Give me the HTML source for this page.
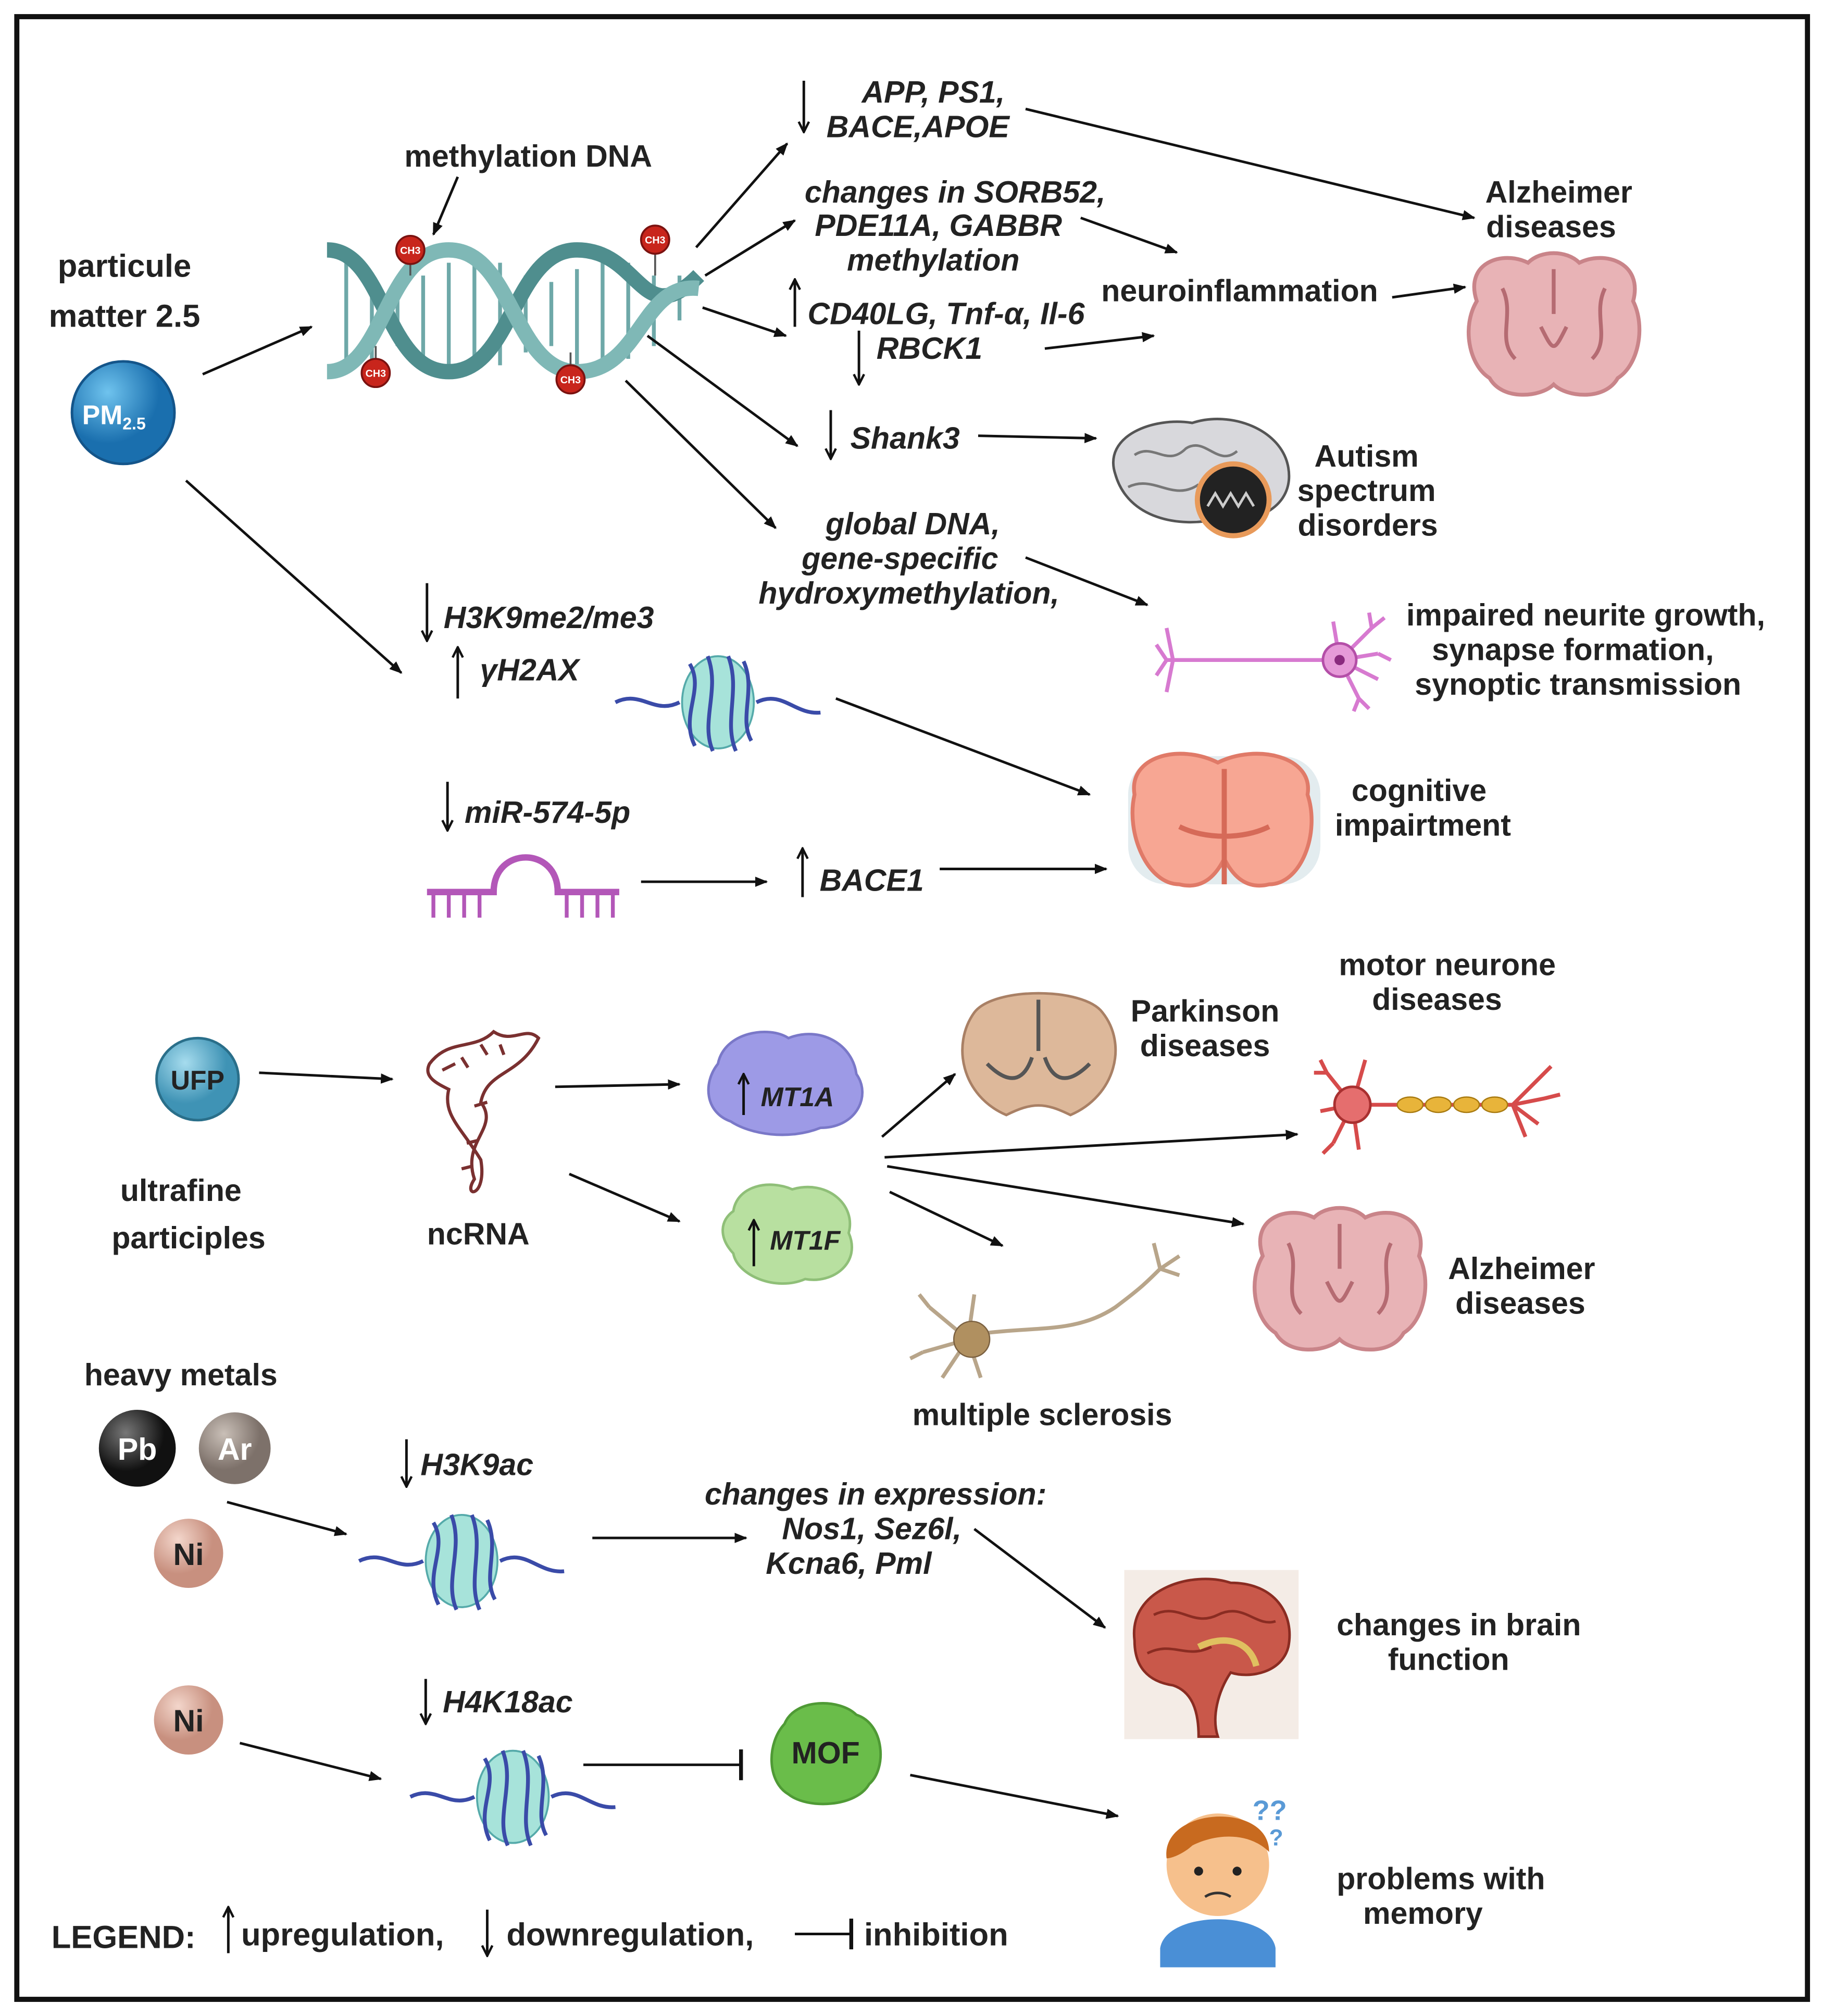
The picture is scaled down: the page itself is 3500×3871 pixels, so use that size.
<!DOCTYPE html>
<html><head><meta charset="utf-8">
<style>
html,body{margin:0;padding:0;background:#fff}
svg{display:block}
text{font-family:"Liberation Sans",sans-serif;font-weight:bold;fill:#222}
.t{font-size:24px;text-anchor:middle}
.i{font-size:24px;font-style:italic;text-anchor:middle}
.a{stroke:#111;stroke-width:2;fill:none;marker-end:url(#ah)}
.r{stroke:#111;stroke-width:2}
</style></head><body>
<svg width="3500" height="3871" viewBox="0 0 1422 1573" xmlns="http://www.w3.org/2000/svg">
<defs>
<marker id="ah" markerWidth="10" markerHeight="8" refX="9" refY="4" orient="auto" markerUnits="userSpaceOnUse" viewBox="0 0 10 8"><path d="M0,0 L10,4 L0,8 z" fill="#111"/></marker>
<marker id="sh" markerWidth="10" markerHeight="10" refX="9" refY="5" orient="auto" markerUnits="userSpaceOnUse" viewBox="0 0 10 10"><path d="M1,1 L9,5 L1,9" fill="none" stroke="#111" stroke-width="1.8"/></marker>
<radialGradient id="gb" cx="35%" cy="30%"><stop offset="0" stop-color="#6fc3ee"/><stop offset="1" stop-color="#1a6fae"/></radialGradient>
<radialGradient id="gu" cx="35%" cy="30%"><stop offset="0" stop-color="#a6dcee"/><stop offset="1" stop-color="#3f93b5"/></radialGradient>
<radialGradient id="gk" cx="35%" cy="30%"><stop offset="0" stop-color="#777"/><stop offset="1" stop-color="#111"/></radialGradient>
<radialGradient id="gg" cx="35%" cy="30%"><stop offset="0" stop-color="#c9bfb7"/><stop offset="1" stop-color="#7d716a"/></radialGradient>
<radialGradient id="gn" cx="35%" cy="30%"><stop offset="0" stop-color="#f3d6cb"/><stop offset="1" stop-color="#c8907f"/></radialGradient>
<g id="nuc">
<path d="M-80,0 C-60,-10 -50,10 -30,0 M30,0 C50,-10 60,10 80,8" stroke="#3a4ba8" stroke-width="3" fill="none"/>
<ellipse cx="0" cy="0" rx="28" ry="36" fill="#a7e3da" stroke="#5aa" stroke-width="1.5"/>
<path d="M-22,-30 C-10,-10 -30,10 -18,34 M-8,-36 C2,-10 -14,15 -4,38 M8,-36 C18,-10 4,15 14,38 M20,-32 C30,-10 16,12 26,30" stroke="#3a4ba8" stroke-width="3" fill="none"/>
</g>
<g id="brainA">
<path d="M-60,-20 C-70,-50 -40,-60 -20,-50 C-10,-60 10,-60 20,-50 C40,-60 70,-50 62,-20 C72,0 66,30 50,40 C40,58 10,55 0,45 C-10,55 -40,58 -50,40 C-66,30 -72,0 -60,-20Z" fill="#e8b3b6" stroke="#c98489" stroke-width="3"/>
<path d="M-40,-30 C-30,-10 -45,10 -30,25 M40,-30 C30,-10 45,10 30,25 M-10,0 C0,20 0,20 10,0 M0,-45 L0,-10" stroke="#b56b72" stroke-width="3" fill="none"/>
</g>
</defs>
<rect x="0" y="0" width="1422" height="1573" fill="#fff"/>
<rect x="13" y="13" width="1397" height="1547" fill="none" stroke="#111" stroke-width="4"/>

<text class="t" x="97" y="216" style="font-size:25px">particule</text>
<text class="t" x="97" y="255" style="font-size:25px">matter 2.5</text>
<circle cx="96" cy="322" r="40" fill="url(#gb)" stroke="#14558a" stroke-width="2"/>
<text x="64" y="331" style="font-size:21px;fill:#fff">PM<tspan style="font-size:13px" dy="4">2.5</tspan></text>
<line class="a" x1="158" y1="292" x2="243" y2="255"/>

<text class="t" x="412" y="130">methylation DNA</text>
<line class="a" x1="357" y1="138" x2="338" y2="183"/>
<g stroke="#6ea8a8" stroke-width="3">
<line x1="270" y1="205" x2="270" y2="285"/><line x1="290" y1="215" x2="290" y2="280"/><line x1="310" y1="225" x2="310" y2="270"/><line x1="330" y1="215" x2="330" y2="280"/><line x1="350" y1="205" x2="350" y2="285"/><line x1="370" y1="200" x2="370" y2="285"/><line x1="390" y1="205" x2="390" y2="285"/><line x1="410" y1="215" x2="410" y2="275"/><line x1="430" y1="220" x2="430" y2="270"/><line x1="450" y1="210" x2="450" y2="285"/><line x1="470" y1="200" x2="470" y2="285"/><line x1="490" y1="205" x2="490" y2="280"/><line x1="510" y1="215" x2="510" y2="270"/><line x1="530" y1="215" x2="530" y2="250"/>
</g>
<path d="M255,195 C300,195 300,290 350,290 C400,290 400,195 450,195 C500,195 500,260 545,215" stroke="#4f8e8e" stroke-width="12" fill="none"/>
<path d="M255,290 C300,290 300,195 350,195 C400,195 400,290 450,290 C500,290 500,220 545,225" stroke="#7fb8b6" stroke-width="12" fill="none"/>
<g fill="#c8251c" stroke="#7a1210" stroke-width="1.5">
<line x1="320" y1="205" x2="320" y2="215" stroke="#555"/><circle cx="320" cy="195" r="11"/>
<line x1="511" y1="197" x2="511" y2="215" stroke="#555"/><circle cx="511" cy="187" r="11"/>
<line x1="293" y1="270" x2="293" y2="281" stroke="#555"/><circle cx="293" cy="291" r="11"/>
<line x1="445" y1="275" x2="445" y2="286" stroke="#555"/><circle cx="445" cy="296" r="11"/>
</g>
<g style="font-size:8px;text-anchor:middle"><text x="320" y="198" style="fill:#fff">CH3</text><text x="511" y="190" style="fill:#fff">CH3</text><text x="293" y="294" style="fill:#fff">CH3</text><text x="445" y="299" style="fill:#fff">CH3</text></g>

<line class="a" x1="543" y1="193" x2="614" y2="112"/>
<line class="a" x1="550" y1="215" x2="620" y2="172"/>
<line class="a" x1="548" y1="240" x2="613" y2="262"/>
<line class="a" x1="505" y1="262" x2="622" y2="348"/>
<line class="a" x1="488" y1="297" x2="605" y2="412"/>

<line class="r" x1="627" y1="63" x2="627" y2="103" marker-end="url(#sh)"/>
<text class="i" x="728" y="80">APP, PS1,</text>
<text class="i" x="716" y="107">BACE,APOE</text>
<line class="a" x1="800" y1="85" x2="1150" y2="170"/>
<text class="t" x="1216" y="158">Alzheimer</text>
<text class="t" x="1210" y="185">diseases</text>

<text class="i" x="745" y="158">changes in SORB52,</text>
<text class="i" x="732" y="184">PDE11A, GABBR</text>
<text class="i" x="728" y="211">methylation</text>
<line class="a" x1="843" y1="170" x2="918" y2="197"/>
<text class="t" x="967" y="235">neuroinflammation</text>
<line class="a" x1="1086" y1="232" x2="1143" y2="224"/>
<use href="#brainA" x="1212" y="255"/>

<line class="r" x1="620" y1="255" x2="620" y2="218" marker-end="url(#sh)"/>
<text class="i" x="738" y="253">CD40LG, Tnf-α, Il-6</text>
<line class="r" x1="670" y1="258" x2="670" y2="300" marker-end="url(#sh)"/>
<text class="i" x="725" y="280">RBCK1</text>
<line class="a" x1="815" y1="272" x2="900" y2="262"/>

<line class="r" x1="648" y1="320" x2="648" y2="358" marker-end="url(#sh)"/>
<text class="i" x="706" y="350">Shank3</text>
<line class="a" x1="763" y1="340" x2="855" y2="342"/>
<path d="M870,370 C860,340 900,325 930,330 C960,320 1000,335 1005,365 C1010,395 980,410 950,405 C920,412 880,405 870,370Z" fill="#d8d8dc" stroke="#555" stroke-width="2"/>
<path d="M885,355 C900,345 910,365 925,350 C940,340 950,365 965,352 M880,380 C900,370 915,392 935,378" stroke="#777" stroke-width="2" fill="none"/>
<circle cx="962" cy="390" r="28" fill="#222" stroke="#e89a5a" stroke-width="4"/>
<path d="M942,395 l6,-10 6,10 6,-10 6,10 6,-10 6,10" stroke="#ccc" stroke-width="2" fill="none"/>
<text class="t" x="1066" y="364">Autism</text>
<text class="t" x="1066" y="391">spectrum</text>
<text class="t" x="1067" y="418">disorders</text>

<text class="i" x="712" y="417">global DNA,</text>
<text class="i" x="702" y="444">gene-specific</text>
<text class="i" x="709" y="471">hydroxymethylation,</text>
<line class="a" x1="800" y1="435" x2="895" y2="472"/>
<g stroke="#d77ad0" stroke-width="3" fill="none">
<path d="M910,515 L1040,515 M910,515 l-8,-12 M910,515 l-8,12 M915,515 l-5,-25 M915,515 l-5,25"/>
<path d="M1045,515 l25,-25 M1045,515 l30,-5 M1045,515 l30,15 M1045,515 l15,30 M1045,515 l-5,-30 M1070,490 l10,-8 M1070,490 l-2,-12 M1075,510 l10,5 M1060,545 l8,8 M1060,545 l-4,10"/>
</g>
<circle cx="1045" cy="515" r="13" fill="#e69ad8" stroke="#b44fa8" stroke-width="2"/>
<circle cx="1045" cy="515" r="4" fill="#8a2a7e"/>
<text class="t" x="1237" y="488">impaired neurite growth,</text>
<text class="t" x="1227" y="515">synapse formation,</text>
<text class="t" x="1231" y="542">synoptic transmission</text>

<line class="a" x1="145" y1="375" x2="313" y2="525"/>
<line class="r" x1="333" y1="455" x2="333" y2="500" marker-end="url(#sh)"/>
<text class="i" x="428" y="490">H3K9me2/me3</text>
<line class="r" x1="357" y1="545" x2="357" y2="505" marker-end="url(#sh)"/>
<text class="i" x="413" y="531">γH2AX</text>
<use href="#nuc" x="560" y="548"/>
<line class="a" x1="652" y1="545" x2="850" y2="620"/>
<rect x="880" y="590" width="150" height="100" rx="30" fill="#e3ecef"/>
<path d="M885,620 C880,590 920,580 950,595 C980,580 1025,590 1020,620 C1030,650 1015,690 990,690 C970,695 960,680 955,670 C950,680 940,695 920,690 C895,690 878,650 885,620Z" fill="#f7a693" stroke="#e07a68" stroke-width="3"/>
<path d="M955,600 L955,690 M920,645 C940,655 970,655 990,645" stroke="#d66a58" stroke-width="4" fill="none"/>
<text class="t" x="1107" y="625">cognitive</text>
<text class="t" x="1110" y="652">impairtment</text>

<line class="r" x1="349" y1="610" x2="349" y2="648" marker-end="url(#sh)"/>
<text class="i" x="427" y="642">miR-574-5p</text>
<g stroke="#b357b8" stroke-width="5" fill="none">
<path d="M333,696 L385,696 C385,660 435,660 435,696 L483,696"/>
<path d="M338,696 v20 M350,696 v20 M362,696 v20 M374,696 v20 M442,696 v20 M454,696 v20 M466,696 v20 M478,696 v20" stroke-width="3"/>
</g>
<line class="a" x1="500" y1="688" x2="598" y2="688"/>
<line class="r" x1="626" y1="700" x2="626" y2="662" marker-end="url(#sh)"/>
<text class="i" x="680" y="695">BACE1</text>
<line class="a" x1="733" y1="678" x2="863" y2="678"/>

<circle cx="154" cy="842" r="32" fill="url(#gu)" stroke="#2a6f8a" stroke-width="2"/>
<text class="t" x="154" y="850" style="font-size:21px">UFP</text>
<text class="t" x="141" y="937" style="font-size:24px">ultrafine</text>
<text class="t" x="147" y="974" style="font-size:24px">participles</text>
<line class="a" x1="202" y1="837" x2="306" y2="842"/>
<g stroke="#7a3030" stroke-width="2.5" fill="none">
<path d="M335,830 C350,810 370,820 385,805 C400,815 410,800 420,810 C405,840 380,835 375,860 C390,880 360,890 370,920 C360,935 380,935 375,905 C360,880 345,870 350,850 C340,845 330,840 335,830Z"/>
<path d="M345,835 l10,-5 M360,825 l5,8 M375,815 l5,8 M390,815 l3,8 M380,860 l-10,3 M372,890 l-8,2 M368,910 l-8,2"/>
</g>
<text class="t" x="373" y="971" style="font-size:24px">ncRNA</text>
<line class="a" x1="433" y1="848" x2="530" y2="846"/>
<path d="M560,830 C565,805 600,800 615,810 C640,800 665,815 668,838 C680,855 668,880 640,880 C615,890 585,885 570,875 C550,868 548,845 560,830Z" fill="#9d9ae6" stroke="#7a78c8" stroke-width="2"/>
<line class="r" x1="580" y1="870" x2="580" y2="838" marker-end="url(#sh)"/>
<text class="i" x="622" y="863" style="font-size:21px">MT1A</text>
<line class="a" x1="444" y1="916" x2="530" y2="953"/>
<path d="M572,945 C575,925 600,920 618,928 C645,920 668,940 662,962 C672,985 650,1002 628,998 C605,1008 575,995 572,978 C560,965 562,952 572,945Z" fill="#b8e0a0" stroke="#8fbf78" stroke-width="2"/>
<line class="r" x1="588" y1="988" x2="588" y2="952" marker-end="url(#sh)"/>
<text class="i" x="628" y="975" style="font-size:21px">MT1F</text>

<line class="a" x1="688" y1="887" x2="745" y2="838"/>
<line class="a" x1="690" y1="903" x2="1012" y2="885"/>
<line class="a" x1="692" y1="910" x2="970" y2="955"/>
<line class="a" x1="694" y1="930" x2="782" y2="972"/>
<path d="M760,790 C775,770 845,770 860,790 C880,815 870,855 835,870 C815,860 805,860 785,870 C750,855 742,815 760,790Z" fill="#ddb89a" stroke="#a98065" stroke-width="2"/>
<path d="M770,830 C790,850 800,840 805,825 M850,830 C830,850 820,840 815,825 M810,780 L810,820" stroke="#555" stroke-width="3" fill="none"/>
<text class="t" x="940" y="797">Parkinson</text>
<text class="t" x="940" y="824">diseases</text>
<text class="t" x="1129" y="761">motor neurone</text>
<text class="t" x="1121" y="788">diseases</text>
<g stroke="#d64b4b" stroke-width="3" fill="none">
<path d="M1055,862 l-20,-25 M1055,862 l-25,5 M1055,862 l-15,30 M1055,862 l10,-35 M1055,862 l5,35 M1035,837 l-5,-10 M1035,837 l-10,0 M1040,892 l-8,8"/>
<path d="M1060,862 L1180,862 M1180,862 l20,-20 M1180,862 l25,-5 M1180,862 l20,15 M1180,862 l10,25 M1200,842 l10,-10 M1205,857 l12,-3"/>
</g>
<circle cx="1055" cy="862" r="14" fill="#e56e6e" stroke="#a93030" stroke-width="2"/>
<g fill="#e8b43a" stroke="#a87a10"><ellipse cx="1100" cy="862" rx="10" ry="6"/><ellipse cx="1122" cy="862" rx="10" ry="6"/><ellipse cx="1144" cy="862" rx="10" ry="6"/><ellipse cx="1166" cy="862" rx="10" ry="6"/></g>
<use href="#brainA" x="1045" y="1000"/>
<text class="t" x="1187" y="998">Alzheimer</text>
<text class="t" x="1186" y="1025">diseases</text>
<g stroke="#b8a58a" stroke-width="3" fill="none">
<path d="M755,1045 l-30,-25 M755,1045 l-35,10 M755,1045 l-20,30 M755,1045 l10,30 M755,1045 l5,-35 M725,1020 l-8,-10 M720,1055 l-10,5"/>
<path d="M770,1040 C810,1035 840,1040 870,1020 C890,1005 895,1000 905,990 M905,990 l15,-10 M905,990 l-5,-20 M905,990 l15,5"/>
</g>
<circle cx="758" cy="1045" r="14" fill="#b09060" stroke="#7a6040"/>
<text class="t" x="813" y="1112">multiple sclerosis</text>

<text class="t" x="141" y="1081" style="font-size:24px">heavy  metals</text>
<circle cx="107" cy="1130" r="30" fill="url(#gk)"/><text class="t" x="107" y="1139" style="font-size:24px;fill:#fff">Pb</text>
<circle cx="183" cy="1130" r="28" fill="url(#gg)"/><text class="t" x="183" y="1139" style="font-size:24px;fill:#fff">Ar</text>
<circle cx="147" cy="1212" r="27" fill="url(#gn)"/><text class="t" x="147" y="1221" style="font-size:24px">Ni</text>
<line class="r" x1="317" y1="1123" x2="317" y2="1160" marker-end="url(#sh)"/>
<text class="i" x="372" y="1151">H3K9ac</text>
<line class="a" x1="177" y1="1172" x2="270" y2="1197"/>
<use href="#nuc" x="360" y="1218"/>
<line class="a" x1="462" y1="1200" x2="582" y2="1200"/>
<text class="i" x="683" y="1174">changes in expression:</text>
<text class="i" x="680" y="1201">Nos1, Sez6l,</text>
<text class="i" x="662" y="1228">Kcna6, Pml</text>
<line class="a" x1="760" y1="1193" x2="862" y2="1270"/>
<rect x="877" y="1225" width="136" height="132" fill="#f4ece6"/>
<path d="M885,1280 C880,1240 930,1225 960,1235 C995,1235 1010,1260 1005,1285 C1000,1305 975,1310 960,1305 C950,1320 945,1340 950,1355 L935,1355 C935,1335 930,1320 915,1315 C895,1312 885,1300 885,1280Z" fill="#c9584a" stroke="#8a2c22" stroke-width="2"/>
<path d="M900,1260 C920,1250 930,1270 950,1260 C970,1250 980,1270 995,1265 M895,1290 C915,1280 925,1295 945,1285" stroke="#8a2c22" stroke-width="2" fill="none"/>
<path d="M935,1285 C955,1275 975,1280 980,1300" stroke="#e0c060" stroke-width="5" fill="none"/>
<text class="t" x="1138" y="1276">changes in brain</text>
<text class="t" x="1130" y="1303">function</text>

<circle cx="147" cy="1342" r="27" fill="url(#gn)"/><text class="t" x="147" y="1351" style="font-size:24px">Ni</text>
<line class="r" x1="332" y1="1310" x2="332" y2="1345" marker-end="url(#sh)"/>
<text class="i" x="396" y="1336">H4K18ac</text>
<line class="a" x1="187" y1="1360" x2="297" y2="1388"/>
<use href="#nuc" x="400" y="1402"/>
<line class="r" x1="455" y1="1377" x2="578" y2="1377"/><line class="r" x1="578" y1="1365" x2="578" y2="1389" style="stroke-width:3"/>
<path d="M612,1345 C620,1325 655,1325 668,1338 C690,1345 692,1380 678,1392 C668,1410 630,1412 615,1400 C598,1390 598,1360 612,1345Z" fill="#6abd4a" stroke="#4f9a35" stroke-width="2"/>
<text class="t" x="644" y="1376">MOF</text>
<line class="a" x1="710" y1="1385" x2="872" y2="1417"/>
<path d="M905,1520 C910,1490 990,1490 995,1520 L995,1535 L905,1535Z" fill="#4a8fd6"/>
<circle cx="950" cy="1455" r="40" fill="#f6c08c"/>
<path d="M910,1450 C905,1410 990,1405 990,1445 C975,1430 950,1430 930,1440 C925,1445 915,1450 910,1450Z" fill="#c86a1f"/>
<circle cx="935" cy="1460" r="3.5" fill="#222"/><circle cx="965" cy="1460" r="3.5" fill="#222"/>
<path d="M940,1480 C946,1476 954,1476 960,1480" stroke="#333" stroke-width="2" fill="none"/>
<text x="977" y="1420" style="font-size:22px;fill:#5a9ad6">??</text><text x="990" y="1440" style="font-size:18px;fill:#5a9ad6">?</text>
<text class="t" x="1124" y="1474">problems with</text>
<text class="t" x="1110" y="1501">memory</text>

<text x="40" y="1520" style="font-size:25px">LEGEND:</text>
<line class="r" x1="178" y1="1524" x2="178" y2="1488" marker-end="url(#sh)"/>
<text x="188" y="1518" style="font-size:25px">upregulation,</text>
<line class="r" x1="380" y1="1490" x2="380" y2="1526" marker-end="url(#sh)"/>
<text x="395" y="1518" style="font-size:25px">downregulation,</text>
<line class="r" x1="620" y1="1509" x2="664" y2="1509"/><line class="r" x1="664" y1="1497" x2="664" y2="1521" style="stroke-width:3"/>
<text x="674" y="1518" style="font-size:25px">inhibition</text>
</svg>
</body></html>
